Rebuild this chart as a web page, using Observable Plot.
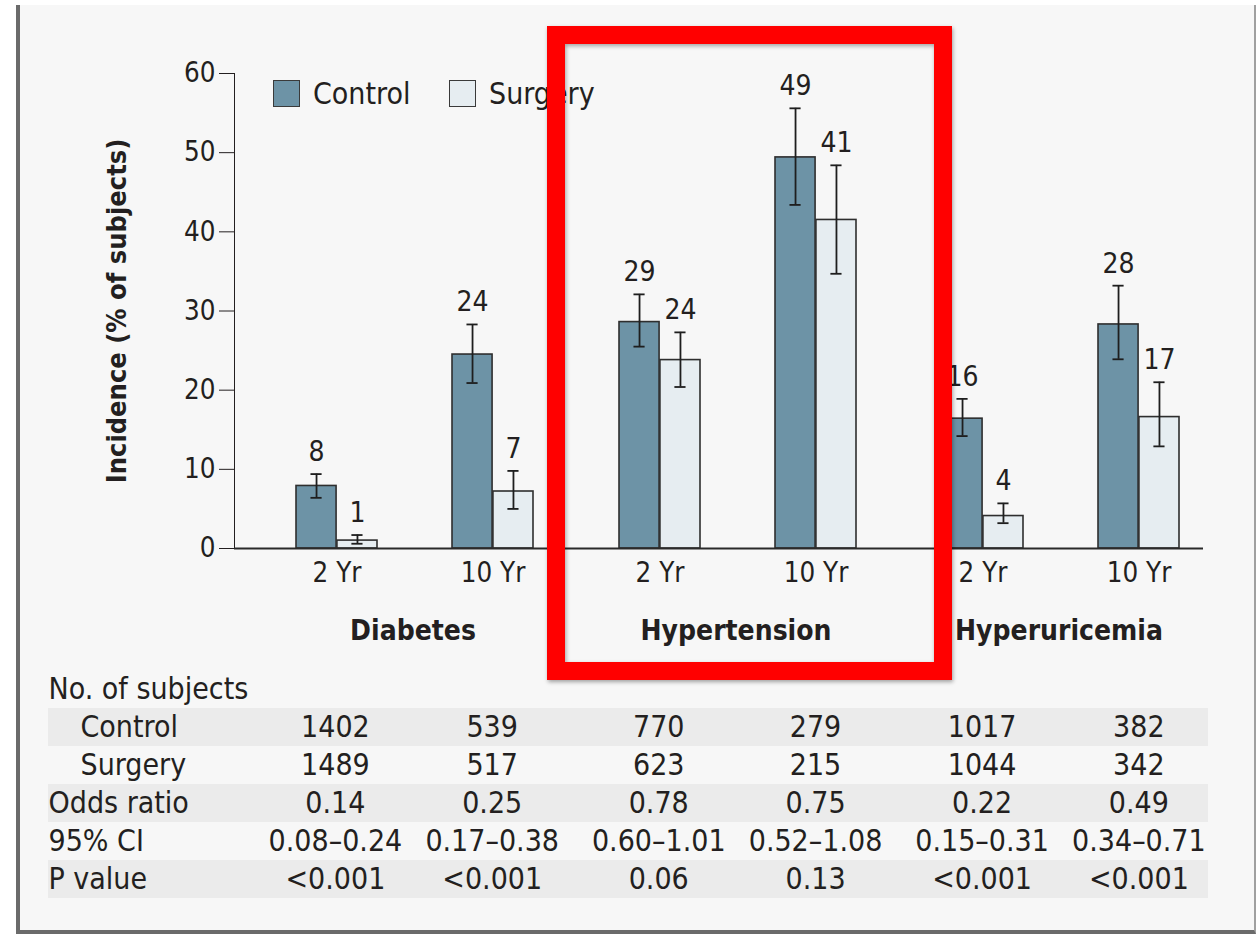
<!DOCTYPE html>
<html>
<head>
<meta charset="utf-8">
<script src="https://cdn.jsdelivr.net/npm/d3@7"></script>
<script src="https://cdn.jsdelivr.net/npm/@observablehq/plot@0.6"></script>
<style>
  html, body { margin: 0; padding: 0; background: #ffffff; }
  body { width: 1258px; height: 935px; position: relative; overflow: hidden;
         font-family: "DejaVu Sans Condensed", "DejaVu Sans", sans-serif; color: #231f20; }
  #panel { position: absolute; left: 16px; top: 5px; width: 1234px; height: 925px;
           background: #f7f7f7; border-left: 4px solid #6b6b6b; border-bottom: 4px solid #6b6b6b;
           border-right: 2px solid #a0a0a0; }
  #chart, #table { position: absolute; left: 0; }
  #chart { top: 0; }
  #table { top: 660px; }
  .lg { position: absolute; top: 79px; height: 28px; display: flex; align-items: center; font-size: 30px; }
  .lg .sw { width: 25px; height: 25px; border: 1.5px solid #3a3a3a; margin-right: 13px; }
  #redbox { position: absolute; left: 547px; top: 26px; width: 405px; height: 654px; box-sizing: border-box;
            border: 18px solid #ff0000; box-shadow: 1px 2px 4px rgba(0,0,0,0.35), inset 1px 2px 4px rgba(0,0,0,0.35); }
  #chart g[aria-label="y-axis label"] text, #chart g[aria-label="y-axis label"] { font-weight: bold; font-size: 27px; }
</style>
</head>
<body>
<div id="panel"></div>
<div id="chart"></div>
<div id="table"></div>
<div class="lg" style="left:273px"><div class="sw" style="background:#6d93a6"></div><span>Control</span></div>
<div class="lg" style="left:449px"><div class="sw" style="background:#e6edf1"></div><span>Surgery</span></div>
<div id="redbox"></div>
<script>
// ---------- data ----------
const diseases = ["Diabetes", "Hypertension", "Hyperuricemia"];
const periods = ["2 Yr", "10 Yr"];
const yTicks = [0, 10, 20, 30, 40, 50, 60];

// order: Diabetes 2 Yr, Diabetes 10 Yr, Hypertension 2 Yr, Hypertension 10 Yr, Hyperuricemia 2 Yr, Hyperuricemia 10 Yr
const controlValues = [7.9, 24.5, 28.6, 49.4, 16.4, 28.3];
const controlLow    = [6.4, 20.9, 25.5, 43.4, 14.2, 23.9];
const controlHigh   = [9.4, 28.3, 32.1, 55.6, 18.9, 33.2];
const controlLabels = ["8", "24", "29", "49", "16", "28"];

const surgeryValues = [1.0, 7.2, 23.8, 41.5, 4.1, 16.6];
const surgeryLow    = [0.6, 5.0, 20.4, 34.7, 3.2, 12.9];
const surgeryHigh   = [1.7, 9.8, 27.3, 48.4, 5.7, 21.0];
const surgeryLabels = ["1", "7", "24", "41", "4", "17"];

const tableRows = ["No. of subjects", "Control", "Surgery", "Odds ratio", "95% CI", "P value"];
const controlN  = ["1402", "539", "770", "279", "1017", "382"];
const surgeryN  = ["1489", "517", "623", "215", "1044", "342"];
const oddsRatio = ["0.14", "0.25", "0.78", "0.75", "0.22", "0.49"];
const ci95      = ["0.08–0.24", "0.17–0.38", "0.60–1.01", "0.52–1.08", "0.15–0.31", "0.34–0.71"];
const pValue    = ["<0.001", "<0.001", "0.06", "0.13", "<0.001", "<0.001"];

// ---------- layout ----------
const W = 1258, H = 660, ML = 233, MR = 55, MT = 73, MB = 112;
const PI = 0.478, PO = 0.27, AL = 0.72;
const FONT = '"DejaVu Sans Condensed", "DejaVu Sans", sans-serif';
const INK = "#231f20";

const fxBand = d3.scaleBand(diseases, [ML, W - MR]).paddingInner(0).paddingOuter(0);
const xBand = d3.scaleBand(periods, [0, fxBand.bandwidth()]).paddingInner(PI).paddingOuter(PO).align(AL);
const bw = xBand.bandwidth();
const q = bw / 4, capHalf = 6;

const rows = [];
diseases.forEach((d, i) => periods.forEach((p, j) => {
  const k = i * periods.length + j;
  rows.push({
    disease: d, period: p,
    control: controlValues[k], cLo: controlLow[k], cHi: controlHigh[k], cLabel: controlLabels[k],
    surgery: surgeryValues[k], sLo: surgeryLow[k], sHi: surgeryHigh[k], sLabel: surgeryLabels[k]
  });
}));

const errStyle = {stroke: "#1e1e1e", strokeWidth: 1.8};

const chart = Plot.plot({
  width: W, height: H,
  marginLeft: ML, marginRight: MR, marginTop: MT, marginBottom: MB,
  style: {fontFamily: FONT, fontSize: "27.5px", color: INK, background: "transparent", overflow: "visible"},
  fx: {domain: diseases, paddingInner: 0, paddingOuter: 0, axis: null, label: null},
  x: {domain: periods, paddingInner: PI, paddingOuter: PO, align: AL, tickSize: 0, tickPadding: 14, label: null},
  y: {domain: [0, 60], ticks: yTicks, tickSize: 15, tickPadding: 4, line: true,
      label: "Incidence (% of subjects)", labelAnchor: "center", labelOffset: 128, labelArrow: "none"},
  marks: [
    Plot.barY(rows, {fx: "disease", x: "period", y: "control", fill: "#6d93a6", stroke: "#2e2e2e", strokeWidth: 1.6, insetRight: bw / 2}),
    Plot.barY(rows, {fx: "disease", x: "period", y: "surgery", fill: "#e6edf1", stroke: "#2e2e2e", strokeWidth: 1.6, insetLeft: bw / 2}),
    Plot.ruleY([0], {stroke: "#2a2a2a", strokeWidth: 2}),
    Plot.ruleX(rows, {fx: "disease", x: "period", y1: "cLo", y2: "cHi", dx: -q, ...errStyle}),
    Plot.ruleX(rows, {fx: "disease", x: "period", y1: "sLo", y2: "sHi", dx: q, ...errStyle}),
    Plot.tickY(rows, {fx: "disease", x: "period", y: "cHi", insetLeft: q - capHalf, insetRight: bw - q - capHalf, ...errStyle}),
    Plot.tickY(rows, {fx: "disease", x: "period", y: "cLo", insetLeft: q - capHalf, insetRight: bw - q - capHalf, ...errStyle}),
    Plot.tickY(rows, {fx: "disease", x: "period", y: "sHi", insetLeft: 3 * q - capHalf, insetRight: q - capHalf, ...errStyle}),
    Plot.tickY(rows, {fx: "disease", x: "period", y: "sLo", insetLeft: 3 * q - capHalf, insetRight: q - capHalf, ...errStyle}),
    Plot.text(rows, {fx: "disease", x: "period", y: "cHi", text: "cLabel", dx: -q, dy: -22, fontSize: 28, fill: INK}),
    Plot.text(rows, {fx: "disease", x: "period", y: "sHi", text: "sLabel", dx: q, dy: -22, fontSize: 28, fill: INK}),
    Plot.text(diseases, {fx: d => d, text: d => d, frameAnchor: "bottom", dx: 17, dy: 91, fontSize: 28, fontWeight: "bold", fill: INK})
  ]
});
document.getElementById("chart").appendChild(chart);

// ---------- table (columns aligned with the bar groups) ----------
const colX = rows.map(r => fxBand(r.disease) + xBand(r.period) + bw / 2);
const cells = [];
const tableValues = [null, controlN, surgeryN, oddsRatio, ci95, pValue];
tableValues.forEach((vals, r) => {
  if (!vals) return;
  vals.forEach((v, k) => cells.push({row: tableRows[r], x: colX[k], text: v}));
});
const stripes = ["Control", "Odds ratio", "P value"];
const mainLabels = ["No. of subjects", "Odds ratio", "95% CI", "P value"];
const subLabels = ["Control", "Surgery"];

const TH = 275, TMT = 9, STEP = 38.4;
const table = Plot.plot({
  width: W, height: TH,
  marginLeft: 48, marginRight: 50, marginTop: TMT, marginBottom: TH - TMT - STEP * tableRows.length,
  style: {fontFamily: FONT, fontSize: "30px", color: INK, background: "transparent", overflow: "visible"},
  x: {type: "identity", axis: null},
  y: {type: "band", domain: tableRows, padding: 0, axis: null},
  marks: [
    Plot.cell(stripes, {y: d => d, fill: "#ebebeb"}),
    Plot.text(mainLabels, {y: d => d, text: d => d, frameAnchor: "left", textAnchor: "start", fill: INK}),
    Plot.text(subLabels, {y: d => d, text: d => d, frameAnchor: "left", textAnchor: "start", dx: 32, fill: INK}),
    Plot.text(cells, {x: "x", y: "row", text: "text", fill: INK})
  ]
});
document.getElementById("table").appendChild(table);
</script>
</body>
</html>
